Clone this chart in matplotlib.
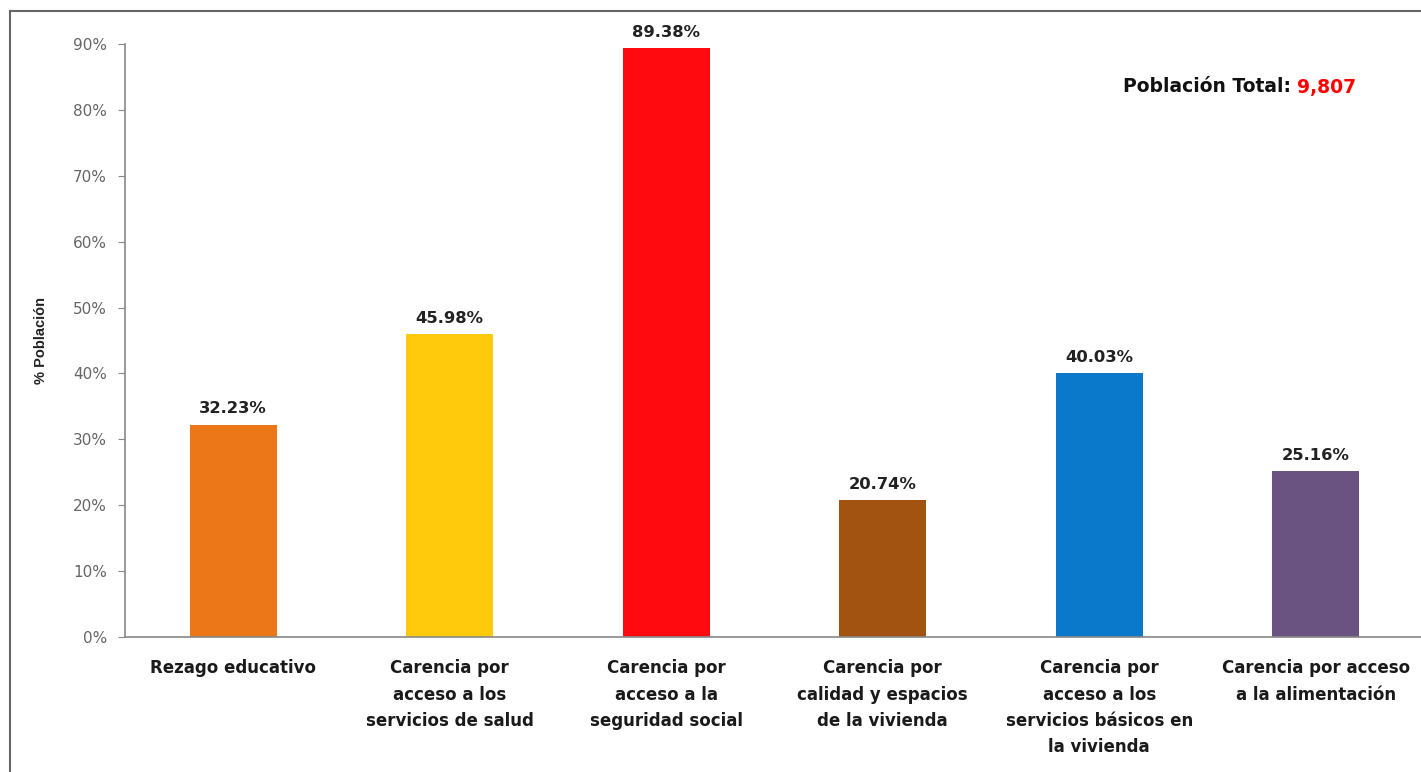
import matplotlib.pyplot as plt
from matplotlib.patches import Rectangle
from matplotlib.ticker import FuncFormatter
import numpy as np

# data
categories = ["Rezago educativo",
              "Carencia por\nacceso a los\nservicios de salud",
              "Carencia por\nacceso a la\nseguridad social",
              "Carencia por\ncalidad y espacios\nde la vivienda",
              "Carencia por\nacceso a los\nservicios básicos en\nla vivienda",
              "Carencia por acceso\na la alimentación"]
values = [32.23, 45.98, 89.38, 20.74, 40.03, 25.16]
colors = ["#EB7718", "#FFCA0C", "#FF0A0E", "#A25312", "#0A79CC", "#6A5381"]
yticks = [0, 10, 20, 30, 40, 50, 60, 70, 80, 90]
total_pop = "9,807"

plt.rcParams['font.family'] = ['DejaVu Sans']

fig = plt.figure(figsize=(14.21, 7.72), dpi=100)
ax = fig.add_axes([125/1421, 1-637/772, 1299/1421, (637-44)/772])

x = np.arange(len(categories))
bars = ax.bar(x, values, width=0.4, color=colors, zorder=2)

for xi, v in zip(x, values):
    ax.annotate(f"{v:.2f}%", (xi, v), xytext=(0, 6), textcoords="offset points",
                ha="center", va="bottom", fontsize=11.8, fontweight="bold", color="#222222")

ax.set_xlim(-0.5, len(categories) - 0.5)
ax.set_ylim(0, 90)
ax.set_yticks(yticks)
ax.yaxis.set_major_formatter(FuncFormatter(lambda v, p: f"{v:.0f}%"))
ax.tick_params(axis="y", direction="out", length=5, color="#888888",
               labelcolor="#666666", labelsize=11, pad=8)
ax.set_xticks(x)
ax.set_xticklabels(categories, fontsize=12, fontweight="bold", color="#1a1a1a",
                   linespacing=1.6, va="top")
ax.tick_params(axis="x", length=0, pad=16)

for s in ["top", "right"]:
    ax.spines[s].set_visible(False)
ax.spines["left"].set_color("#888888")
ax.spines["bottom"].set_color("#888888")
ax.spines["left"].set_linewidth(1.2)
ax.spines["bottom"].set_linewidth(1.2)

ax.set_ylabel("% Población", fontsize=10.5, fontweight="bold", color="#222222",
              labelpad=18, family="Liberation Sans")

fig.text(1123/1421, 1-87/772, "Población Total:", fontsize=13.5, fontweight="bold",
         color="#111111", ha="left", va="center")
fig.text(1356/1421, 1-87/772, total_pop, fontsize=13.5, fontweight="bold",
         color="#FF0000", ha="right", va="center")

# outer frame
fig.patches.append(Rectangle((10/1421, -0.2), 1.2, 1.2 - 11/772, transform=fig.transFigure,
                             fill=False, edgecolor="#666666", linewidth=1.5))

fig.savefig("out.png", dpi=100)
